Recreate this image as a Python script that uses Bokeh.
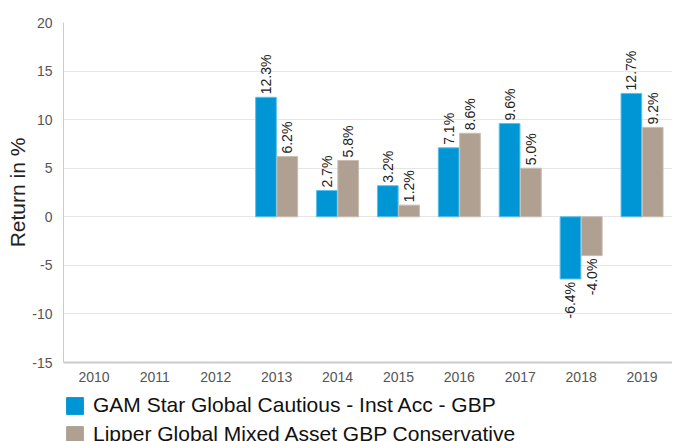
import math
from bokeh.plotting import figure
from bokeh.layouts import column
from bokeh.models import (ColumnDataSource, FactorRange, Range1d, FixedTicker,
                          Legend, LegendItem)
from bokeh.transform import dodge
from bokeh.core.properties import value
from bokeh.embed import file_html
from bokeh.resources import INLINE

years = ["2010", "2011", "2012", "2013", "2014", "2015", "2016", "2017", "2018", "2019"]
gam = [None, None, None, 12.3, 2.7, 3.2, 7.1, 9.6, -6.4, 12.7]
lipper = [None, None, None, 6.2, 5.8, 1.2, 8.6, 5.0, -4.0, 9.2]
series_names = ["GAM Star Global Cautious - Inst Acc - GBP",
                "Lipper Global Mixed Asset GBP Conservative"]
y_ticks = [-15, -10, -5, 0, 5, 10, 15, 20]

BLUE = "#0096D6"
TAN = "#B0A092"
BLUE_EDGE = "#5cbfe8"
TAN_EDGE = "#c9bdb2"
FONT = "Liberation Sans"


def make_source(vals):
    xs, ys, labels = [], [], []
    for yr, v in zip(years, vals):
        if v is None:
            continue
        xs.append(yr)
        ys.append(v)
        labels.append(f"{v:.1f}%")
    return ColumnDataSource(dict(
        x=xs, y=ys, label=labels,
        pos_y=[v if v >= 0 else float("nan") for v in ys],
        neg_y=[v if v < 0 else float("nan") for v in ys],
    ))


src_gam = make_source(gam)
src_lip = make_source(lipper)

p = figure(x_range=FactorRange(*years, range_padding=0),
           y_range=Range1d(-15, 20),
           width=672, height=392,
           output_backend="svg", toolbar_location=None,
           min_border_left=63, min_border_top=22, min_border_right=0,
           min_border_bottom=30)
p.outline_line_color = None
p.background_fill_color = "white"
p.border_fill_color = "white"

bar_w = 0.34
off = 0.175
p.vbar(x=dodge("x", -off, range=p.x_range), top="y", bottom=0, width=bar_w,
       source=src_gam, fill_color=BLUE, line_color=BLUE_EDGE, line_width=1)
p.vbar(x=dodge("x", off, range=p.x_range), top="y", bottom=0, width=bar_w,
       source=src_lip, fill_color=TAN, line_color=TAN_EDGE, line_width=1)

for src, o in ((src_gam, -off), (src_lip, off)):
    p.text(x=dodge("x", o, range=p.x_range), y="pos_y", text="label", source=src,
           angle=math.pi / 2, text_align="left", text_baseline="middle",
           x_offset=0, y_offset=-3, text_font=value(FONT),
           text_font_size="14px", text_color="#222222")
    p.text(x=dodge("x", o, range=p.x_range), y="neg_y", text="label", source=src,
           angle=math.pi / 2, text_align="right", text_baseline="middle",
           x_offset=0, y_offset=3, text_font=value(FONT),
           text_font_size="14px", text_color="#222222")

p.yaxis.ticker = FixedTicker(ticks=y_ticks)
p.yaxis.major_label_overrides = {t: str(t) for t in y_ticks}
p.yaxis.axis_label = "Return in %"
p.yaxis.axis_label_text_font = FONT
p.yaxis.axis_label_text_font_size = "21px"
p.yaxis.axis_label_text_font_style = "normal"
p.yaxis.axis_label_text_color = "#222222"
p.yaxis.axis_label_standoff = 0
for ax in (p.xaxis, p.yaxis):
    ax.major_label_text_font = FONT
    ax.major_label_text_font_size = "14px"
    ax.major_label_text_color = "#555555"
    ax.major_tick_line_color = None
    ax.minor_tick_line_color = None
    ax.axis_line_color = "#cccccc"
p.yaxis.major_label_standoff = 5
p.xaxis.major_label_standoff = 3
p.xaxis.axis_line_width = 2

p.xgrid.grid_line_color = None
p.ygrid.grid_line_color = "#e6e6e6"
p.ygrid.ticker = FixedTicker(ticks=y_ticks)

# legend panel underneath the chart (swatch renderers sit outside the visible range)
pl = figure(width=672, height=49, x_range=Range1d(0, 1), y_range=Range1d(0, 1),
            output_backend="svg", toolbar_location=None,
            min_border_left=62, min_border_top=0, min_border_right=0,
            min_border_bottom=0)
pl.axis.visible = False
pl.grid.grid_line_color = None
pl.outline_line_color = None
l1 = pl.vbar(x=[5], top=[5], bottom=[4], width=0.1, fill_color=BLUE, line_color=BLUE)
l2 = pl.vbar(x=[5], top=[5], bottom=[4], width=0.1, fill_color=TAN, line_color=TAN)
legend = Legend(items=[LegendItem(label=series_names[0], renderers=[l1]),
                       LegendItem(label=series_names[1], renderers=[l2])],
                orientation="vertical", location="top_left",
                border_line_color=None, background_fill_alpha=0,
                label_text_font=FONT, label_text_font_size="21px",
                label_text_color="#111111", label_text_baseline="middle",
                glyph_width=21, glyph_height=21, label_height=21,
                label_standoff=8, spacing=5, padding=0, margin=1)
pl.add_layout(legend, "center")

layout = column(p, pl, spacing=0)
open("out.html", "w").write(file_html(layout, INLINE))
